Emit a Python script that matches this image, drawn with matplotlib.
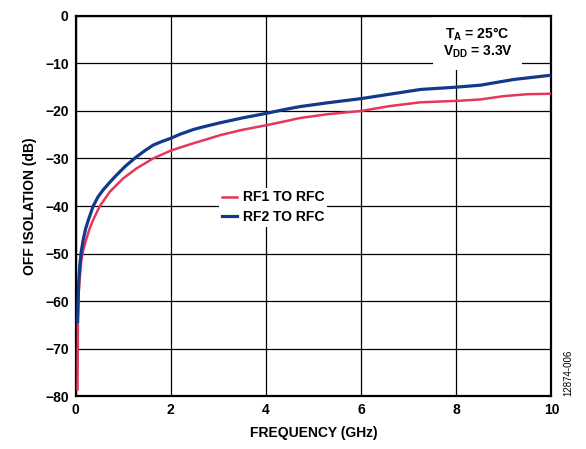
import numpy as np
import matplotlib.pyplot as plt

plt.rcParams['font.family'] = ['Liberation Sans', 'DejaVu Sans']
plt.rcParams['mathtext.fontset'] = 'custom'
plt.rcParams['mathtext.rm'] = 'Liberation Sans:bold'
plt.rcParams['mathtext.bf'] = 'Liberation Sans:bold'
plt.rcParams['mathtext.it'] = 'Liberation Sans:bold'
plt.rcParams['mathtext.default'] = 'bf'

# values
freq_rf2 = [0.04, 0.05, 0.065, 0.09, 0.12, 0.16, 0.21, 0.27, 0.37, 0.47, 0.58, 0.72,
            0.86, 1.05, 1.25, 1.45, 1.63, 1.80, 1.99, 2.2, 2.48, 2.75, 3.04, 3.5,
            4.02, 4.4, 4.72, 5.3, 6.02, 6.6, 7.25, 8.02, 8.51, 9.21, 10.0]
iso_rf2 = [-64.3, -60.5, -56.0, -52.3, -49.5, -47.1, -44.8, -42.9, -40.0, -38.1, -36.6,
           -35.0, -33.5, -31.6, -29.9, -28.4, -27.2, -26.5, -25.8, -24.9, -23.9, -23.2,
           -22.5, -21.5, -20.5, -19.7, -19.1, -18.3, -17.4, -16.5, -15.5, -15.0, -14.6,
           -13.4, -12.5]

freq_rf1 = [0.04, 0.05, 0.065, 0.09, 0.12, 0.16, 0.23, 0.3, 0.37, 0.51, 0.72, 1.0,
            1.28, 1.63, 1.99, 2.2, 2.48, 2.75, 3.04, 3.5, 4.02, 4.4, 4.72, 5.3, 6.02,
            6.6, 7.25, 8.02, 8.51, 9.0, 9.5, 10.0]
iso_rf1 = [-78.6, -64.0, -58.5, -54.8, -51.5, -49.3, -46.8, -44.6, -42.9, -40.0, -37.0,
           -34.2, -32.1, -30.0, -28.4, -27.7, -26.8, -26.0, -25.1, -24.0, -23.0, -22.2,
           -21.5, -20.7, -20.0, -19.0, -18.2, -17.9, -17.6, -16.9, -16.5, -16.4]

xticks = [0, 2, 4, 6, 8, 10]
yticks = [0, -10, -20, -30, -40, -50, -60, -70, -80]

fig = plt.figure(figsize=(5.86, 4.49), dpi=100)
ax = fig.add_axes([0.129, 0.1174, 0.812, 0.8476])

ax.plot(freq_rf1, iso_rf1, color='#e5375b', lw=1.8, label='RF1 TO RFC', zorder=4)
ax.plot(freq_rf2, iso_rf2, color='#12398a', lw=2.3, label='RF2 TO RFC', zorder=5)

ax.set_xlim(0, 10)
ax.set_ylim(-80, 0)
ax.set_xticks(xticks)
ax.set_yticks(yticks)
ax.grid(True, color='black', lw=0.9)
ax.set_axisbelow(True)
ax.tick_params(length=0, labelsize=10, pad=5)
for lab in ax.get_xticklabels() + ax.get_yticklabels():
    lab.set_fontweight('bold')
for sp in ax.spines.values():
    sp.set_linewidth(1.6)
    sp.set_zorder(3.5)

ax.set_xlabel('FREQUENCY (GHz)', fontsize=10, fontweight='bold', labelpad=6)
ax.set_ylabel('OFF ISOLATION (dB)', fontsize=10, fontweight='bold', labelpad=6)

leg = ax.legend(loc='center left', bbox_to_anchor=(0.302, 0.497), fontsize=10,
                frameon=True, fancybox=False, edgecolor='none', framealpha=1,
                handlelength=1.1, handletextpad=0.4, labelspacing=0.4,
                borderpad=0.2, borderaxespad=0)
leg.set_zorder(3)
for t in leg.get_texts():
    t.set_fontweight('bold')

ax.text(0.845, 0.975, 'T$_A$ = 25°C\nV$_{DD}$ = 3.3V', transform=ax.transAxes,
        ha='center', va='top', fontsize=10, fontweight='bold', linespacing=1.1,
        bbox=dict(facecolor='white', edgecolor='none', pad=7), zorder=3)

fig.text(0.970, 0.169, '12874-006', rotation=90, fontsize=7, ha='center', va='center')

fig.savefig('out.png', dpi=100)
